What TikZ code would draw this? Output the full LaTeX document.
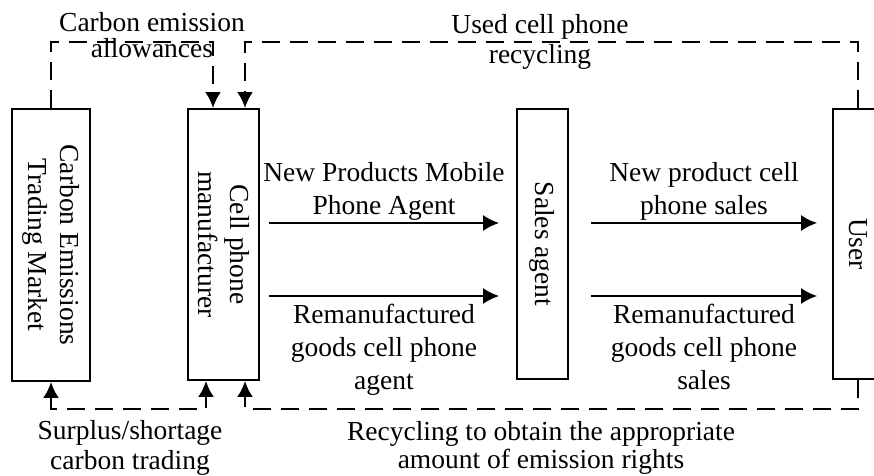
\documentclass[tikz,border=0pt]{standalone}
\usepackage{fontspec}
\setmainfont{Liberation Serif}
\usetikzlibrary{arrows.meta,positioning,calc}
\tikzstyle{actor}=[draw,line width=0.9pt,inner sep=0pt]
\tikzstyle{vtext}=[rotate=-90,align=center,inner sep=0pt,font=\fontsize{13.75pt}{16pt}\selectfont]
\tikzstyle{lbl}=[align=center,inner sep=0pt,font=\fontsize{13.75pt}{16.5pt}\selectfont]
\tikzstyle{flow}=[line width=1pt,-{Latex[length=8pt,width=8pt]}]
\tikzstyle{dashflow}=[line width=1.3pt,dash pattern=on 9pt off 5pt,-{Latex[length=8pt,width=8pt]}]

\begin{document}
\begin{tikzpicture}[x=0.5pt,y=-0.5pt]
    \useasboundingbox (0,0) rectangle (874,476);
    % boxes
    \node [actor,minimum width=39pt,minimum height=136pt] (market) at (51,245) {};
    \node [actor,minimum width=35.5pt,minimum height=135.5pt] (maker) at (223.5,244.5) {};
    \node [actor,minimum width=25.5pt,minimum height=135pt] (agent) at (542.5,244) {};
    \node [actor,minimum width=25pt,minimum height=135pt] (user) at (858,244) {};
    \node [vtext] (markettxt) at (market) {Carbon Emissions\\Trading Market};
    \node [vtext] (makertxt) at (maker) {Cell phone\\manufacturer};
    \node [vtext] (agenttxt) at (agent) {Sales agent};
    \node [vtext] (usertxt) at (user) {User};
    % goods flow
    \draw [flow] ($(maker.east)+(9,-21.5)$) -- ($(agent.west)+(-17,-21)$)
      node [midway,above,lbl,inner sep=1pt] (newlbl) {New Products Mobile\\Phone Agent};
    \draw [flow] ($(maker.east)+(9,51.5)$) -- ($(agent.west)+(-17,52)$)
      node [midway,below,lbl,inner sep=3.5pt] (remlbl) {Remanufactured\\goods cell phone\\agent};
    \draw [flow] ($(agent.east)+(22,-21)$) -- ($(user.west)+(-15,-21)$)
      node [midway,above,lbl,inner sep=1pt] (newsale) {New product cell\\phone sales};
    \draw [flow] ($(agent.east)+(22,52)$) -- ($(user.west)+(-15,52)$)
      node [midway,below,lbl,inner sep=3.5pt] (remsale) {Remanufactured\\goods cell phone\\sales};
    % dashed loops
    \coordinate (upline) at (0,42);
    \coordinate (lowline) at (0,409);
    \draw [dashflow] (market.north) -- (market.north |- upline) -| ($(maker.north)+(-10.5,0)$);
    \draw [dashflow] (user.north) -- (user.north |- upline) -| ($(maker.north)+(21.5,0)$);
    \draw [dashflow,{Latex[length=8pt,width=8pt]}-{Latex[length=8pt,width=8pt]}]
      (market.south) -- (market.south |- lowline) -| ($(maker.south)+(-17.5,0)$);
    \draw [dashflow] (user.south) -- (user.south |- lowline) -| ($(maker.south)+(21.5,0)$);
    \node [lbl,anchor=north,font=\fontsize{13.75pt}{13pt}\selectfont] (quota) at (152,12) {Carbon emission\\allowances};
    \node [lbl,anchor=north,font=\fontsize{13.75pt}{15pt}\selectfont] (recycle) at (540,14) {Used cell phone\\recycling};
    \node [lbl,anchor=north,font=\fontsize{13.75pt}{15pt}\selectfont] (trade) at (130,420) {Surplus/shortage\\carbon trading};
    \node [lbl,anchor=north,font=\fontsize{13.75pt}{14pt}\selectfont] (rights) at (541,421) {Recycling to obtain the appropriate\\amount of emission rights};
\end{tikzpicture}
\end{document}
